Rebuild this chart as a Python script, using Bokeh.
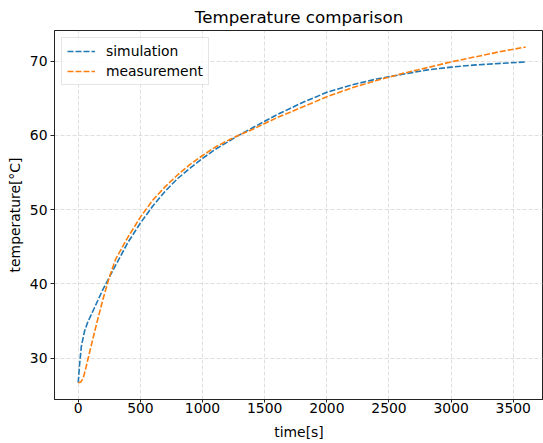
from bokeh.plotting import figure
from bokeh.models import Range1d, FixedTicker, Legend, LegendItem
from bokeh.embed import file_html
from bokeh.resources import INLINE

# --- data ---
sim_t = [0, 10, 25, 50, 75, 100, 150, 200, 250, 300, 400, 500, 600, 700, 800, 900,
         1000, 1100, 1200, 1300, 1400, 1500, 1600, 1700, 1800, 1900, 2000, 2200,
         2400, 2600, 2800, 3000, 3200, 3400, 3600]
sim_T = [26.7, 29.0, 31.6, 33.6, 34.8, 35.7, 37.5, 39.3, 40.9, 42.5, 45.6, 48.2, 50.5,
         52.5, 54.2, 55.6, 56.9, 58.1, 59.1, 60.1, 61.0, 61.9, 62.8, 63.6, 64.4, 65.1,
         65.8, 66.8, 67.6, 68.2, 68.8, 69.2, 69.5, 69.7, 69.9]

meas_t = [0, 20, 40, 60, 80, 100, 125, 150, 200, 250, 300, 400, 500, 600, 700, 800,
          900, 1000, 1100, 1200, 1300, 1400, 1500, 1600, 1700, 1800, 1900, 2000, 2200,
          2400, 2600, 2800, 3000, 3200, 3400, 3600]
meas_T = [26.7, 26.8, 27.3, 28.6, 30.0, 31.4, 33.1, 34.8, 38.0, 40.9, 43.3, 46.3, 49.0,
          51.3, 53.1, 54.7, 56.1, 57.3, 58.4, 59.3, 60.1, 60.8, 61.6, 62.4, 63.1, 63.8,
          64.5, 65.2, 66.4, 67.4, 68.3, 69.1, 69.9, 70.6, 71.3, 71.9]

x_ticks = [0, 500, 1000, 1500, 2000, 2500, 3000, 3500]
y_ticks = [30, 40, 50, 60, 70]

FONT = "DejaVu Sans"

p = figure(width=543, height=443, output_backend="svg", toolbar_location=None,
           x_range=Range1d(-191, 3743), y_range=Range1d(24.44, 74.13),
           min_border_left=54, min_border_right=0, min_border_top=30,
           min_border_bottom=44, title="Temperature comparison")

p.title.text_font = FONT
p.title.text_font_size = "16.7px"
p.title.text_font_style = "normal"
p.title.align = "center"
p.title.text_color = "#000000"
p.title.standoff = 8

p.outline_line_color = "#222222"
p.outline_line_width = 1

for ax, ticks, lab in ((p.xaxis[0], x_ticks, "time[s]"), (p.yaxis[0], y_ticks, "temperature[°C]")):
    ax.ticker = FixedTicker(ticks=ticks)
    ax.axis_label = lab
    ax.axis_label_text_font = FONT
    ax.axis_label_text_font_size = "13.9px"
    ax.axis_label_text_font_style = "normal"
    ax.axis_label_text_color = "#000000"
    ax.major_label_text_font = FONT
    ax.major_label_text_font_size = "13.9px"
    ax.major_label_text_color = "#000000"
    ax.major_tick_in = 0
    ax.minor_tick_in = 0
    ax.minor_tick_out = 0
    ax.axis_line_color = "#222222"
    ax.major_tick_line_color = "#222222"

p.xaxis[0].major_tick_out = 3
p.xaxis[0].major_label_standoff = 0
p.xaxis[0].axis_label_standoff = 8
p.yaxis[0].major_tick_out = 4
p.yaxis[0].major_label_standoff = 3
p.yaxis[0].axis_label_standoff = 4

p.xgrid[0].ticker = FixedTicker(ticks=x_ticks)
p.ygrid[0].ticker = FixedTicker(ticks=y_ticks)
for g in (p.xgrid[0], p.ygrid[0]):
    g.grid_line_color = "#b0b0b0"
    g.grid_line_alpha = 0.5
    g.grid_line_dash = "4 2"
    g.grid_line_width = 0.8

r_sim = p.line(sim_t, sim_T, line_color="#1f77b4", line_width=1.6, line_dash="6 2")
r_meas = p.line(meas_t, meas_T, line_color="#ff7f0e", line_width=1.6, line_dash="6 2")

legend = Legend(items=[LegendItem(label="simulation", renderers=[r_sim]),
                       LegendItem(label="measurement", renderers=[r_meas])],
                location="top_left")
legend.label_text_font = FONT
legend.label_text_font_size = "13.9px"
legend.label_text_color = "#000000"
legend.glyph_width = 28
legend.glyph_height = 14
legend.label_height = 14
legend.spacing = 4
legend.padding = 5
legend.margin = 7
legend.label_standoff = 11
legend.border_line_color = "#cccccc"
legend.border_line_width = 1
legend.background_fill_alpha = 0.8
p.add_layout(legend)

open("out.html", "w").write(file_html(p, INLINE))
